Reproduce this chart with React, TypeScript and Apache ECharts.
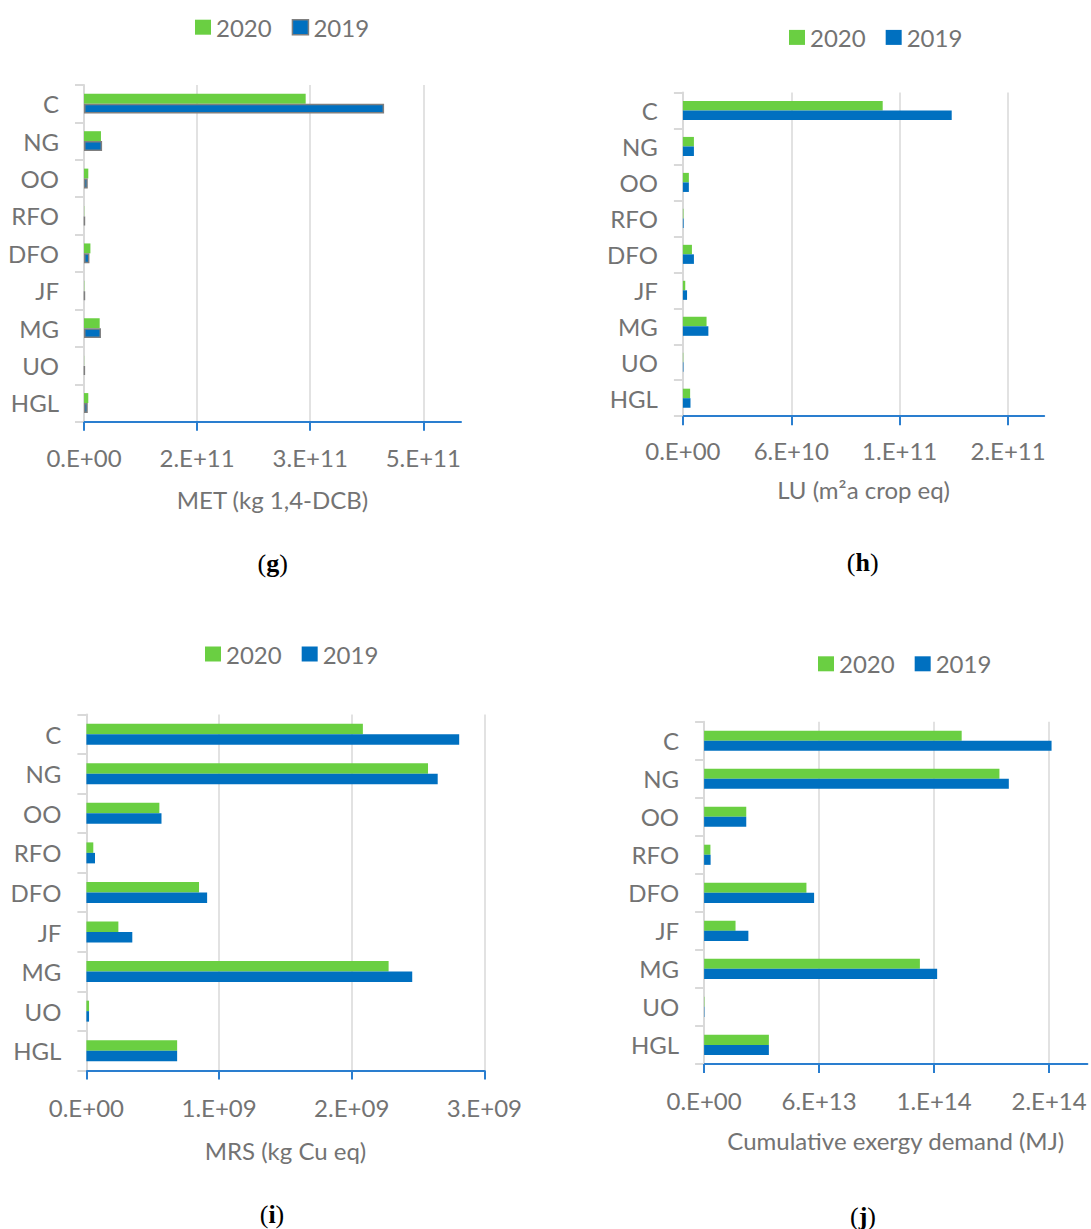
import React, { useEffect, useRef } from 'react';
import * as echarts from 'echarts';

const categories = ['C', 'NG', 'OO', 'RFO', 'DFO', 'JF', 'MG', 'UO', 'HGL'];
const seriesNames = ['2020', '2019'];

const met2020 = [2.94e11, 2.25e10, 5.7e9, 3e8, 8.5e9, 4e8, 2.08e10, 2e8, 5.7e9];
const met2019 = [3.98e11, 2.4e10, 5e9, 1.2e9, 7.2e9, 1.2e9, 2.25e10, 1e9, 5e9];
const metTicks = [0, 1.5e11, 3e11, 4.5e11];
const metTickLabels = ['0.E+00', '2.E+11', '3.E+11', '5.E+11'];
const metMax = 5e11;

const lu2020 = [1.106e11, 6.1e9, 3.3e9, 3e8, 5e9, 1.3e9, 1.31e10, 2e8, 4e9];
const lu2019 = [1.488e11, 6.1e9, 3.3e9, 4e8, 6.1e9, 2.3e9, 1.41e10, 3e8, 4.2e9];
const luTicks = [0, 6e10, 1.2e11, 1.8e11];
const luTickLabels = ['0.E+00', '6.E+10', '1.E+11', '2.E+11'];
const luMax = 2e11;

const mrs2020 = [2.084e9, 2.575e9, 0.55e9, 0.052e9, 0.849e9, 0.241e9, 2.278e9, 0.02e9, 0.684e9];
const mrs2019 = [2.81e9, 2.648e9, 0.566e9, 0.065e9, 0.91e9, 0.346e9, 2.456e9, 0.02e9, 0.684e9];
const mrsTicks = [0, 1e9, 2e9, 3e9];
const mrsTickLabels = ['0.E+00', '1.E+09', '2.E+09', '3.E+09'];
const mrsMax = 3e9;

const ced2020 = [1.344e14, 1.541e14, 2.2e13, 3.3e12, 5.34e13, 1.64e13, 1.126e14, 2e11, 3.38e13];
const ced2019 = [1.813e14, 1.59e14, 2.2e13, 3.4e12, 5.74e13, 2.31e13, 1.216e14, 2e11, 3.38e13];
const cedTicks = [0, 6e13, 1.2e14, 1.8e14];
const cedTickLabels = ['0.E+00', '6.E+13', '1.E+14', '2.E+14'];
const cedMax = 2e14;

const GREEN = '#6acf42';
const BLUE = '#0070c0';
const TEXT = '#737373';
const GRIDC = '#d9d9d9';
const AXIS_BLUE = '#2a7ecf';
const FONT = 'Lato, "Noto Sans", sans-serif';
const FS = 24;

type Panel = {
  v2020: number[];
  v2019: number[];
  ticks: number[];
  labels: string[];
  max: number;
  name: string;
  grid: { left: number; top: number; width: number; height: number };
  legendLeft: number;
  legendCy: number;
  caption: string;
  capX: number;
  capY: number;
  nameGap: number;
  labelMargin: number;
  border2019: boolean;
};

const panels: Panel[] = [
  {
    v2020: met2020, v2019: met2019, ticks: metTicks, labels: metTickLabels, max: metMax,
    name: 'MET (kg 1,4-DCB)',
    grid: { left: 84, top: 85, width: 377, height: 336.7 },
    legendLeft: 190, legendCy: 22.2, caption: 'g', capX: 272.7, capY: 563,
    nameGap: 66, labelMargin: 24, border2019: true,
  },
  {
    v2020: lu2020, v2019: lu2019, ticks: luTicks, labels: luTickLabels, max: luMax,
    name: 'LU (m²a crop eq)',
    grid: { left: 682.9, top: 92.5, width: 361.3, height: 323.7 },
    legendLeft: 784, legendCy: 32.4, caption: 'h', capX: 862.7, capY: 562.3,
    nameGap: 61, labelMargin: 22, border2019: false,
  },
  {
    v2020: mrs2020, v2019: mrs2019, ticks: mrsTicks, labels: mrsTickLabels, max: mrsMax,
    name: 'MRS (kg Cu eq)',
    grid: { left: 86.4, top: 714.4, width: 398, height: 356.1 },
    legendLeft: 200, legendCy: 649, caption: 'i', capX: 272, capY: 1214,
    nameGap: 68, labelMargin: 25, border2019: false,
  },
  {
    v2020: ced2020, v2019: ced2019, ticks: cedTicks, labels: cedTickLabels, max: cedMax,
    name: 'Cumulative exergy demand (MJ)',
    grid: { left: 704.1, top: 721.7, width: 383.3, height: 342.2 },
    legendLeft: 813, legendCy: 658.8, caption: 'j', capX: 863, capY: 1216,
    nameGap: 65, labelMargin: 25, border2019: false,
  },
];

function buildOption() {
  const grid: any[] = [];
  const xAxis: any[] = [];
  const yAxis: any[] = [];
  const series: any[] = [];
  const legend: any[] = [];
  const graphic: any[] = [];

  panels.forEach((p, i) => {
    grid.push({ ...p.grid, containLabel: false, outerBoundsMode: 'none' });
    yAxis.push({
      type: 'category',
      gridIndex: i,
      data: categories,
      inverse: true,
      axisLine: { show: true, lineStyle: { color: GRIDC, width: 2 } },
      axisTick: { show: true, length: 9, lineStyle: { color: GRIDC, width: 2 } },
      axisLabel: { color: TEXT, fontSize: FS, fontFamily: FONT, margin: 25 },
      splitLine: { show: false },
    });
    xAxis.push({
      type: 'value',
      gridIndex: i,
      min: 0,
      max: p.max,
      interval: p.ticks[1],
      name: p.name,
      nameLocation: 'middle',
      nameGap: p.nameGap,
      nameTextStyle: { color: TEXT, fontSize: FS, fontFamily: FONT },
      axisLine: { show: true, lineStyle: { color: AXIS_BLUE, width: 2 } },
      axisTick: { show: true, length: 9, customValues: p.ticks, lineStyle: { color: AXIS_BLUE, width: 2 } },
      axisLabel: {
        customValues: p.ticks,
        color: TEXT,
        fontSize: FS,
        fontFamily: FONT,
        margin: p.labelMargin,
        showMaxLabel: true,
        showMinLabel: true,
        formatter: (v: number) => {
          const idx = p.ticks.findIndex((t) => Math.abs(t - v) < p.ticks[1] * 1e-6);
          return idx >= 0 ? p.labels[idx] : '';
        },
      },
      splitLine: { show: true, showMinLine: false, showMaxLine: true, lineStyle: { color: GRIDC, width: 1.5 } },
    });
    series.push({
      type: 'bar',
      name: seriesNames[0],
      xAxisIndex: i,
      yAxisIndex: i,
      data: p.v2020,
      barCategoryGap: '47%',
      barGap: '0%',
      itemStyle: { color: GREEN },
    });
    series.push({
      type: 'bar',
      name: seriesNames[1],
      xAxisIndex: i,
      yAxisIndex: i,
      data: p.v2019,
      barCategoryGap: '47%',
      barGap: '0%',
      itemStyle: p.border2019
        ? { color: BLUE, borderColor: '#7f7f7f', borderWidth: 1.5 }
        : { color: BLUE },
    });
    legend.push({
      left: p.legendLeft,
      top: p.legendCy - 12,
      orient: 'horizontal',
      icon: 'rect',
      itemWidth: 16,
      itemHeight: 15,
      itemGap: 20,
      selectedMode: false,
      textStyle: { color: TEXT, fontSize: FS, fontFamily: FONT, lineHeight: 24 },
      data: [
        { name: seriesNames[0], itemStyle: { color: GREEN, borderWidth: 0 } },
        {
          name: seriesNames[1],
          itemStyle: p.border2019
            ? { color: BLUE, borderColor: '#7f7f7f', borderWidth: 1.5 }
            : { color: BLUE, borderWidth: 0 },
        },
      ],
    });
    graphic.push({
      type: 'text',
      x: p.capX,
      y: p.capY,
      style: {
        text: `{p|(}{b|${p.caption}}{p|)}`,
        align: 'center',
        verticalAlign: 'middle',
        rich: {
          p: { fontFamily: '"Liberation Serif", serif', fontSize: 26, fill: '#000', color: '#000' },
          b: { fontFamily: '"Liberation Serif", serif', fontSize: 26, fontWeight: 'bold', fill: '#000', color: '#000' },
        },
      },
    });
  });

  return {
    animation: false,
    backgroundColor: '#ffffff',
    grid,
    xAxis,
    yAxis,
    series,
    legend,
    graphic,
  };
}

export default function App() {
  const ref = useRef<HTMLDivElement>(null);
  useEffect(() => {
    if (!ref.current) return;
    const chart = echarts.init(ref.current, undefined, { renderer: 'svg' });
    chart.setOption(buildOption() as any);
    return () => chart.dispose();
  }, []);
  return (
    <div
      ref={ref}
      style={{ position: 'absolute', left: 0, top: 0, width: 1091, height: 1229, background: '#fff' }}
    />
  );
}
